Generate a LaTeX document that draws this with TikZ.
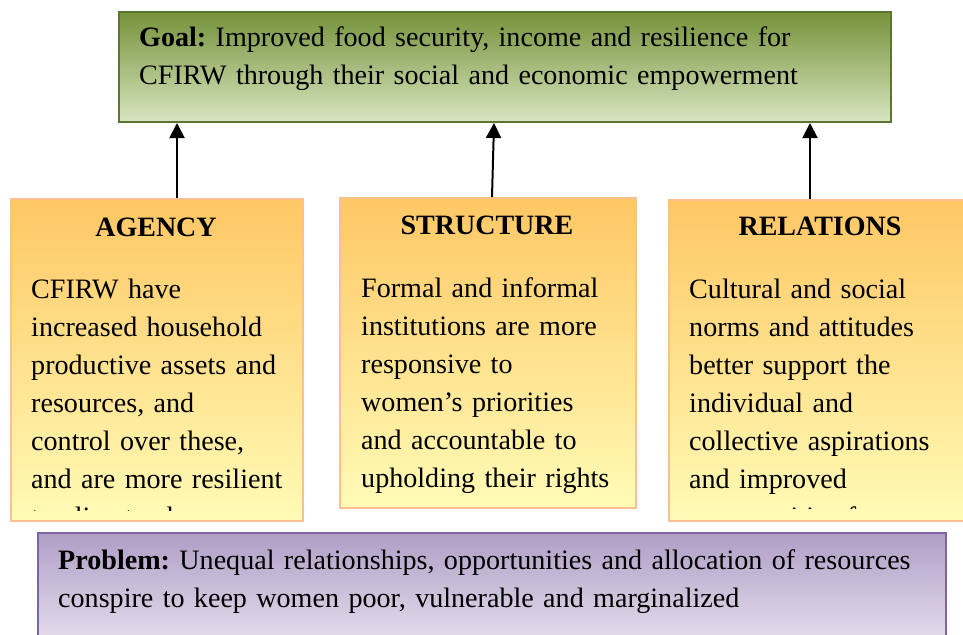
\documentclass[tikz,border=0pt]{standalone}
\usepackage{fontspec}
\setmainfont{Liberation Serif}
\usetikzlibrary{arrows.meta}

\definecolor{goaltop}{RGB}{117,146,58}
\definecolor{goalbot}{RGB}{216,229,192}
\definecolor{goalline}{RGB}{92,118,48}
\definecolor{pillartop}{RGB}{254,199,100}
\definecolor{pillarbot}{RGB}{255,251,182}
\definecolor{pillarline}{RGB}{250,192,144}
\definecolor{probtop}{RGB}{176,158,198}
\definecolor{probbot}{RGB}{229,224,237}
\definecolor{probline}{RGB}{128,100,162}

\begin{document}
\frenchspacing
\begin{tikzpicture}[x=1pt,y=-1pt,
  box/.style={rectangle, inner sep=0pt, anchor=north west},
  goalbox/.style={box, draw=goalline, line width=2pt, top color=goaltop, bottom color=goalbot},
  pillar/.style={box, draw=pillarline, line width=1.5pt, top color=pillartop, bottom color=pillarbot},
  probbox/.style={box, draw=probline, line width=2pt, top color=probtop, bottom color=probbot},
  txt/.style={anchor=base west, inner sep=0pt, text width=#1, align=left,
              font=\fontsize{28.1}{38}\selectfont},
  head/.style={anchor=base, inner sep=0pt, font=\fontsize{28}{38}\selectfont\bfseries},
  up/.style={-{Triangle[length=15pt,width=15pt]}, line width=2pt}
]
\clip (0,0) rectangle (963,634);
\fill[white] (0,0) rectangle (963,634);

% boxes
\node[goalbox, minimum width=772pt, minimum height=110pt] (goal) at (118,11) {};
\node[pillar, minimum width=292pt, minimum height=322pt] (agency) at (10,198) {};
\node[pillar, minimum width=296pt, minimum height=310pt] (structure) at (339,197) {};
\node[pillar, minimum width=300pt, minimum height=321pt] (relations) at (668,199) {};
\node[probbox, minimum width=908pt, minimum height=112pt] (problem) at (37,532) {};

% arrows from the three pillars up to the goal
\coordinate (ax) at (177,0);
\coordinate (sb) at (492,0);
\coordinate (st) at (494,0);
\coordinate (rx) at (810,0);
\draw[up] (ax |- agency.north) -- (ax |- goal.south);
\draw[up] (sb |- structure.north) -- (st |- goal.south);
\draw[up] (rx |- relations.north) -- (rx |- goal.south);

% goal text
\node[txt=760pt, font=\fontsize{28.1}{37}\selectfont] (goaltext) at (139,47)
  {\textbf{Goal:} Improved food security, income and resilience for\\
   CFIRW through their social and economic empowerment};

% pillar headings
\node[head] (agencyhead) at (156,236) {AGENCY};
\node[head] (structurehead) at (487,234) {STRUCTURE};
\node[head] (relationshead) at (820,235) {RELATIONS};

% pillar texts
\begin{scope}
  \clip (10,198) rectangle (302,510);
  \node[txt=280pt] (agencytext) at (31,298)
    {CFIRW have\\
     increased household\\
     productive assets and\\
     resources, and\\
     control over these,\\
     and are more resilient\\
     to climate change};
\end{scope}

\node[txt=280pt] (structuretext) at (361,297)
  {Formal and informal\\
   institutions are more\\
   responsive to\\
   women’s priorities\\
   and accountable to\\
   upholding their rights};

\begin{scope}
  \clip (668,199) rectangle (963,508);
  \node[txt=280pt] (relationstext) at (689,298)
    {Cultural and social\\
     norms and attitudes\\
     better support the\\
     individual and\\
     collective aspirations\\
     and improved\\
     opportunities for};
\end{scope}

% problem text
\node[txt=880pt] (problemtext) at (58,569)
  {\textbf{Problem:} Unequal relationships, opportunities and allocation of resources\\
   conspire to keep women poor, vulnerable and marginalized};
\end{tikzpicture}
\end{document}
